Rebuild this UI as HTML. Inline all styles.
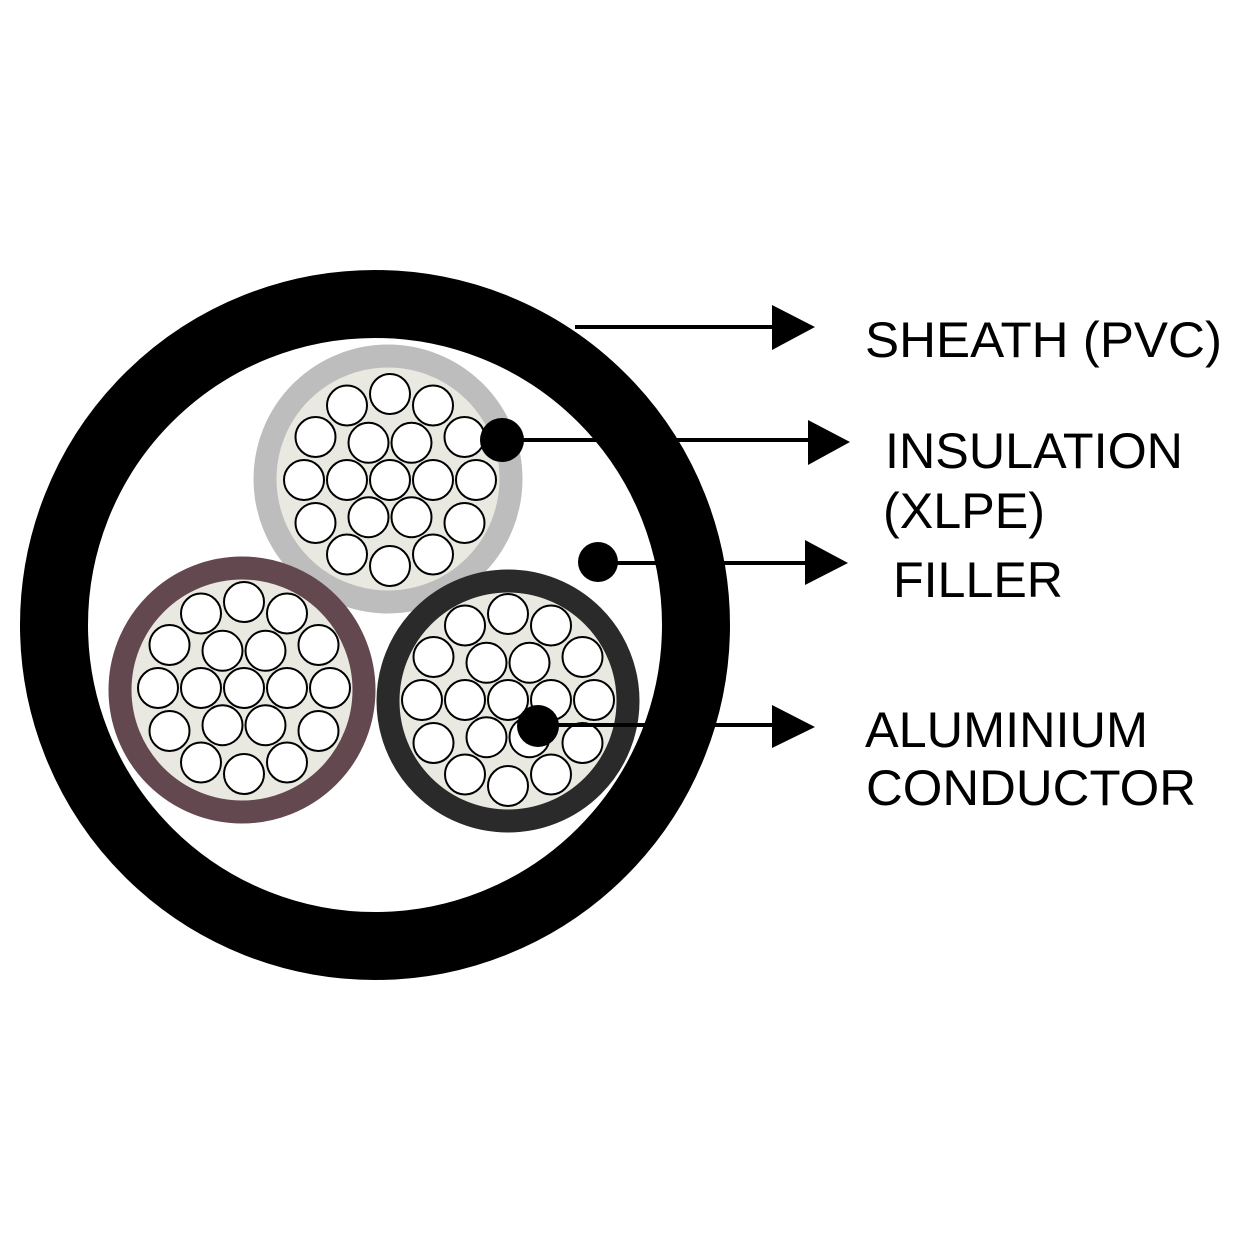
<!DOCTYPE html>
<html><head><style>html,body{margin:0;padding:0;background:#fff}svg{display:block}</style></head>
<body>
<svg width="1250" height="1250" viewBox="0 0 1250 1250" xmlns="http://www.w3.org/2000/svg">
<defs>
<g id="strands" fill="#fff" stroke="#000" stroke-width="2">
<circle cx="0" cy="0" r="20"/>
<circle cx="43" cy="0" r="20"/><circle cx="21.5" cy="37.2" r="20"/><circle cx="-21.5" cy="37.2" r="20"/>
<circle cx="-43" cy="0" r="20"/><circle cx="-21.5" cy="-37.2" r="20"/><circle cx="21.5" cy="-37.2" r="20"/>
<circle cx="86" cy="0" r="20"/><circle cx="74.5" cy="43" r="20"/><circle cx="43" cy="74.5" r="20"/>
<circle cx="0" cy="86" r="20"/><circle cx="-43" cy="74.5" r="20"/><circle cx="-74.5" cy="43" r="20"/>
<circle cx="-86" cy="0" r="20"/><circle cx="-74.5" cy="-43" r="20"/><circle cx="-43" cy="-74.5" r="20"/>
<circle cx="0" cy="-86" r="20"/><circle cx="43" cy="-74.5" r="20"/><circle cx="74.5" cy="-43" r="20"/>
</g>
</defs>
<circle cx="375" cy="625" r="321" fill="none" stroke="#000" stroke-width="68"/>
<circle cx="388" cy="479" r="123" fill="#e9e9e1" stroke="#bdbdbd" stroke-width="23"/>
<use href="#strands" x="390" y="480"/>
<circle cx="242" cy="690" r="122" fill="#e9e9e1" stroke="#644850" stroke-width="23"/>
<use href="#strands" x="244" y="688"/>
<circle cx="508" cy="701" r="120" fill="#e9e9e1" stroke="#2a2a2a" stroke-width="23"/>
<use href="#strands" x="508" y="700"/>
<g fill="#000" stroke="#000">
<line x1="575" y1="327" x2="780" y2="327" stroke-width="4"/>
<polygon points="772,305 815,327 772,350" stroke="none"/>
<circle cx="502" cy="440" r="22" stroke="none"/>
<line x1="502" y1="440" x2="815" y2="440" stroke-width="4"/>
<polygon points="808,420 850,442 808,465" stroke="none"/>
<circle cx="598" cy="562" r="20" stroke="none"/>
<line x1="598" y1="563" x2="812" y2="563" stroke-width="4"/>
<polygon points="805,540 848,563 805,585" stroke="none"/>
<circle cx="538" cy="726" r="21" stroke="none"/>
<line x1="538" y1="725" x2="780" y2="725" stroke-width="4"/>
<polygon points="772,705 815,727 772,748" stroke="none"/>
</g>
<g font-family="Liberation Sans, Arial, sans-serif" font-size="50" fill="#000">
<text x="865" y="357" textLength="357" lengthAdjust="spacingAndGlyphs">SHEATH (PVC)</text>
<text x="885" y="468" textLength="298" lengthAdjust="spacingAndGlyphs">INSULATION</text>
<text x="883" y="528" textLength="162" lengthAdjust="spacingAndGlyphs">(XLPE)</text>
<text x="893" y="597" textLength="170" lengthAdjust="spacingAndGlyphs">FILLER</text>
<text x="865" y="747" textLength="283" lengthAdjust="spacingAndGlyphs">ALUMINIUM</text>
<text x="866" y="805" textLength="330" lengthAdjust="spacingAndGlyphs">CONDUCTOR</text>
</g>
</svg>
</body></html>
